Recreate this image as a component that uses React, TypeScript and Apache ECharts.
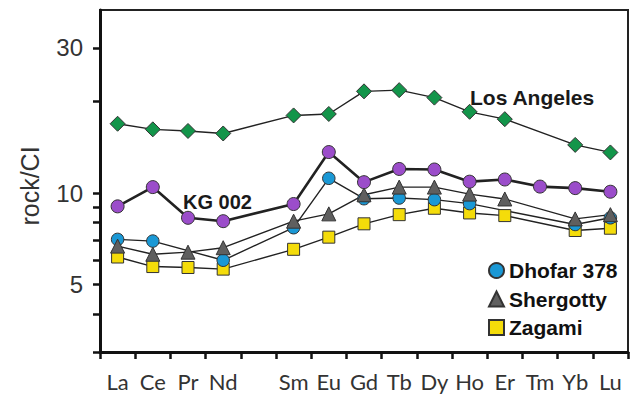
import React, { useEffect, useRef } from "react";
import * as echarts from "echarts";

const elements = ["La", "Ce", "Pr", "Nd", "", "Sm", "Eu", "Gd", "Tb", "Dy", "Ho", "Er", "Tm", "Yb", "Lu"];
const losAngeles = [16.9, 16.2, 16.0, 15.7, null, 18.0, 18.2, 21.6, 21.8, 20.6, 18.5, 17.5, null, 14.4, 13.6];
const kg002 = [9.04, 10.46, 8.29, 8.08, null, 9.2, 13.64, 10.86, 12.0, 11.95, 10.9, 11.08, 10.5, 10.38, 10.1];
const dhofar378 = [7.04, 6.95, null, 6.01, null, 7.69, 11.18, 9.58, 9.63, 9.51, 9.23, null, null, 7.88, 8.29];
const shergotty = [6.69, 6.29, 6.39, 6.61, null, 8.08, 8.54, 9.87, 10.46, 10.46, 9.92, 9.56, null, 8.22, 8.49];
const zagami = [6.16, 5.73, 5.69, 5.62, null, 6.53, 7.16, 7.92, 8.49, 8.91, 8.6, 8.43, null, 7.53, 7.66];
const yTicks = [3, 4, 5, 6, 7, 8, 9, 10, 20, 30];
const yLabels = [5, 10, 30];

const INK = "#222";

export default function App() {
  const ref = useRef<HTMLDivElement>(null);
  useEffect(() => {
    if (!ref.current) return;
    const chart = echarts.init(ref.current, null, { renderer: "svg" });
    const mk = (name: string, data: any[], symbol: string, size: number, color: string, width = 1.4) => ({
      name,
      type: "line",
      data,
      connectNulls: true,
      symbol,
      symbolSize: size,
      lineStyle: { color: INK, width },
      itemStyle: { color, borderColor: "#333", borderWidth: 1 },
      emphasis: { disabled: true },
    });
    chart.setOption({
      animation: false,
      backgroundColor: "#fff",
      grid: {
        left: 100, right: 2, top: 10, bottom: 53, containLabel: false, outerBoundsMode: "none",
        show: true, borderColor: INK, borderWidth: 2, backgroundColor: "transparent",
      },
      xAxis: {
        type: "category",
        data: elements,
        boundaryGap: true,
        axisLine: { lineStyle: { color: "#111", width: 3 } },
        axisTick: { show: true, interval: 0, length: 7, lineStyle: { color: "#111", width: 2.5 } },
        axisLabel: { interval: 0, margin: 18, fontFamily: "Lato", fontSize: 22, color: "#333" },
        splitLine: { show: false },
      },
      yAxis: {
        type: "log",
        min: 3,
        max: 40,
        axisLine: { show: true, lineStyle: { color: "#111", width: 3 } },
        axisTick: { show: true, length: 7, customValues: yTicks, lineStyle: { color: "#111", width: 2.5 } },
        axisLabel: { customValues: yLabels, margin: 17, fontFamily: "Liberation Sans", fontSize: 24, color: "#333", formatter: (v: number) => String(Math.round(v)) },
        splitLine: { show: false },
        minorTick: { show: false },
      },
      legend: {
        orient: "vertical",
        left: 483,
        top: 255,
        itemWidth: 15,
        itemHeight: 15,
        itemGap: 7.5,
        selectedMode: false,
        textStyle: { fontFamily: "Liberation Sans", fontWeight: "bold", fontSize: 21, lineHeight: 20, color: "#111" },
        data: [
          { name: "Dhofar 378", icon: "circle" },
          { name: "Shergotty", icon: "triangle" },
          { name: "Zagami", icon: "rect" },
        ],
      },
      graphic: [
        {
          type: "text", x: 30, y: 186, rotation: Math.PI / 2,
          style: { text: "rock/CI", fontFamily: "Liberation Sans", fontSize: 25, fill: "#333", align: "center", verticalAlign: "middle" },
        },
        {
          type: "text", x: 183, y: 202,
          style: { text: "KG 002", fontFamily: "Liberation Sans", fontWeight: "bold", fontSize: 20, fill: "#1a1a1a", align: "left", verticalAlign: "middle" },
        },
        {
          type: "text", x: 470, y: 97,
          style: { text: "Los Angeles", fontFamily: "Liberation Sans", fontWeight: "bold", fontSize: 21, fill: "#1a1a1a", align: "left", verticalAlign: "middle" },
        },
      ],
      series: [
        mk("Zagami", zagami, "rect", 12, "#f4dc0a"),
        mk("Dhofar 378", dhofar378, "circle", 12.5, "#1a98d5"),
        mk("Shergotty", shergotty, "triangle", 14, "#5f5f5f"),
        mk("KG 002", kg002, "circle", 13, "#9b4dca", 2.6),
        mk("Los Angeles", losAngeles, "diamond", 15, "#13954a"),
      ],
    });
    return () => chart.dispose();
  }, []);
  return <div ref={ref} style={{ position: "fixed", left: 0, top: 0, width: 630, height: 405 }} />;
}
